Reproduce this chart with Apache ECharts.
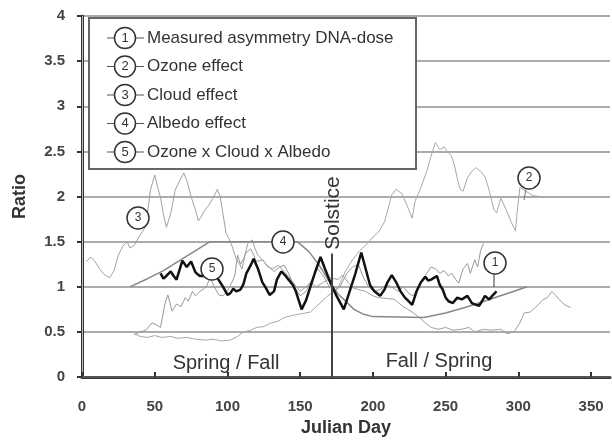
<!DOCTYPE html>
<html><head><meta charset="utf-8">
<script src="https://cdn.jsdelivr.net/npm/echarts/dist/echarts.min.js"></script>
<style>html,body{margin:0;padding:0;background:#fff}#c{width:612px;height:442px}</style>
</head><body><div id="c"></div>
<script>
// ---- data ----
const yTicks = [0, 0.5, 1, 1.5, 2, 2.5, 3, 3.5, 4];
const xTicks = [0, 50, 100, 150, 200, 250, 300, 350];
const seriesNames = ['Measured asymmetry DNA-dose', 'Ozone effect', 'Cloud effect', 'Albedo effect', 'Ozone x Cloud x Albedo'];
const solsticeDay = 172;

const measuredDays = [54,56,58,61,63,65,69,72,75,78,81,84,87,90,93,97,100,102,104,106,109,111,113,116,118,121,124,126,129,132,134,137,140,142,145,147,151,154,157,160,164,167,171,175,180,184,188,192,195,198,201,205,208,210,213,216,219,222,224,227,230,233,236,238,240,244,246,248,250,252,255,258,261,263,265,268,271,273,275,277,280,282,285];
const measuredVals = [1.15,1.09,1.12,1.17,1.12,1.08,1.29,1.22,1.28,1.16,1.12,1.12,1.18,1.11,1.10,1.00,0.91,0.93,0.98,0.95,0.97,1.03,1.15,1.24,1.31,1.20,1.05,1.00,0.91,0.95,1.08,1.17,1.12,1.08,1.02,0.95,0.75,0.85,1.00,1.15,1.33,1.20,1.04,0.90,0.75,0.95,1.15,1.38,1.20,1.02,0.95,0.90,0.97,1.05,1.13,1.05,0.95,0.88,0.85,0.80,0.95,1.05,1.11,1.07,1.08,1.12,1.02,0.97,0.88,0.84,0.82,0.88,0.86,0.88,0.90,0.82,0.80,0.79,0.84,0.90,0.86,0.90,0.95];

const ozoneDays = [36,40,45,50,55,61,66,72,78,85,90,96,102,107,111,116,120,125,130,135,139,144,150,157,163,169,176,181,186,191,195,200,204,208,211,213,216,220,224,227,229,233,237,240,243,246,249,251,254,256,258,260,262,265,268,271,274,277,279,281,283,285,288,292,295,298,299,301,305,310,315,320];
const ozoneVals = [0.48,0.45,0.44,0.46,0.44,0.45,0.43,0.44,0.42,0.41,0.42,0.40,0.41,0.45,0.50,0.52,0.55,0.56,0.60,0.62,0.66,0.68,0.70,0.72,0.81,0.90,0.99,1.17,1.30,1.40,1.46,1.55,1.61,1.72,1.90,2.02,2.08,2.03,1.88,1.76,1.95,2.10,2.28,2.45,2.60,2.52,2.55,2.50,2.45,2.35,2.20,2.08,2.06,2.21,2.28,2.32,2.28,2.22,2.12,2.00,1.86,1.82,1.98,1.84,1.72,1.62,1.80,2.10,2.06,2.01,2.00,1.99];

const cloudDays = [3,6,9,12,15,19,22,25,28,31,33,36,39,42,44,47,50,52,54,56,58,61,64,67,70,72,75,78,80,82,84,87,90,93,95,97,99,102,104,106,108,110,112,114,117,119,121,125,128,131,135,140,145,150,154,157,161,166,171,176,179,183,186,190,195,200,204,210,215,220,224,227,232,236,240,245,250,255,261,266,270,276,281,288,292,297,301,304,308,313,317,320,323,326,328,332,336];
const cloudVals = [1.28,1.33,1.28,1.20,1.14,1.10,1.18,1.35,1.45,1.50,1.43,1.46,1.55,1.62,1.68,2.07,2.24,2.10,1.99,1.80,1.66,1.81,2.07,2.17,2.26,2.18,2.00,1.85,1.73,1.78,1.84,1.90,1.98,2.08,2.00,1.80,1.60,1.50,1.41,1.31,1.26,1.20,1.35,1.48,1.52,1.42,1.35,1.28,1.22,1.20,1.24,1.15,1.05,0.95,1.00,1.05,1.00,1.05,1.10,1.08,1.13,1.05,0.99,0.97,0.95,0.90,0.88,0.87,0.86,0.79,0.75,0.72,0.66,0.60,0.55,0.53,0.55,0.52,0.53,0.55,0.50,0.53,0.52,0.53,0.48,0.50,0.60,0.71,0.72,0.79,0.86,0.88,0.95,0.90,0.86,0.80,0.77];

const albedoDays = [33,45,56,72,88,148,156,163,170,176,182,187,193,200,235,250,265,280,295,306];
const albedoVals = [1.00,1.09,1.18,1.34,1.50,1.50,1.39,1.24,1.06,0.92,0.83,0.75,0.70,0.67,0.66,0.71,0.78,0.86,0.94,1.00];

const productDays = [36,40,44,48,51,54,57,59,62,65,68,71,73,76,78,81,84,86,88,91,94,97,100,103,105,107,109,111,113,116,118,120,124,127,130,132,136,139,142,146,150,154,158,162,166,170,174,178,182,186,190,193,197,201,205,209,213,217,221,225,228,231,234,237,240,243,246,249,252,254,257,259,262,265,267,270,272,274,276];
const productVals = [0.47,0.50,0.52,0.60,0.58,0.55,0.81,0.91,0.73,0.81,0.78,0.88,0.84,0.95,0.90,0.95,0.98,1.02,1.10,1.00,0.91,0.90,0.95,1.05,1.12,1.35,1.25,1.31,1.38,1.42,1.35,1.28,1.30,1.24,1.20,1.17,1.22,1.24,1.15,1.00,0.90,0.95,1.08,1.20,1.12,1.00,0.95,1.02,1.15,1.22,1.25,1.12,1.00,0.95,0.97,1.02,1.00,0.95,1.00,0.92,0.90,1.00,1.08,1.15,1.22,1.20,1.15,1.18,1.12,1.15,1.08,1.04,1.20,1.26,1.15,1.30,1.22,1.40,1.48];

const zip = (a, b) => a.map((d, i) => [d, b[i]]);
const FONT = '"Liberation Sans", Arial, sans-serif';

// ---- layout constants ----
const legendX = 89, legendY = 18, legendW = 327, legendH = 151;
const legendRows = [38, 66.5, 95, 123.5, 152];
const legendCircleX = 125;
const annotations = [
  {n: '1', x: 495, y: 263}, {n: '2', x: 529, y: 178}, {n: '3', x: 138, y: 218},
  {n: '4', x: 283, y: 242}, {n: '5', x: 212, y: 269}
];

const graphic = [];
graphic.push({type: 'rect', z: 100, shape: {x: legendX, y: legendY, width: legendW, height: legendH},
  style: {fill: '#fff', stroke: '#666', lineWidth: 2}});
legendRows.forEach((y, i) => {
  graphic.push({type: 'line', z: 101, shape: {x1: legendCircleX - 18, y1: y, x2: legendCircleX + 19, y2: y},
    style: {stroke: '#555', lineWidth: 1.2}});
  graphic.push({type: 'circle', z: 102, shape: {cx: legendCircleX, cy: y, r: 10.5},
    style: {fill: '#fff', stroke: '#333', lineWidth: 1.5}});
  graphic.push({type: 'text', z: 103, style: {text: String(i + 1), x: legendCircleX, y: y, align: 'center',
    verticalAlign: 'middle', fontSize: 13, fontFamily: FONT, fill: '#333'}});
  graphic.push({type: 'text', z: 103, style: {text: seriesNames[i], x: 147, y: y, align: 'left',
    verticalAlign: 'middle', fontSize: 17, fontFamily: FONT, fill: '#333'}});
});
annotations.forEach(a => {
  graphic.push({type: 'circle', z: 90, shape: {cx: a.x, cy: a.y, r: 11},
    style: {fill: '#fff', stroke: '#333', lineWidth: 1.5}});
  graphic.push({type: 'text', z: 91, style: {text: a.n, x: a.x, y: a.y, align: 'center',
    verticalAlign: 'middle', fontSize: 12, fontFamily: FONT, fill: '#333'}});
});
graphic.push({type: 'line', z: 90, shape: {x1: 494, y1: 274, x2: 494, y2: 287}, style: {stroke: '#555', lineWidth: 1.2}});
graphic.push({type: 'line', z: 90, shape: {x1: 526, y1: 189, x2: 524, y2: 200}, style: {stroke: '#777', lineWidth: 1}});
graphic.push({type: 'text', z: 95, x: 333, y: 213, rotation: Math.PI / 2,
  style: {text: 'Solstice', align: 'center', verticalAlign: 'middle', fontSize: 21, fontFamily: FONT, fill: '#333'}});
graphic.push({type: 'text', z: 95, style: {text: 'Spring / Fall', x: 226, y: 363, align: 'center',
  verticalAlign: 'middle', fontSize: 20, fontFamily: FONT, fill: '#333'}});
graphic.push({type: 'text', z: 95, style: {text: 'Fall / Spring', x: 439, y: 361, align: 'center',
  verticalAlign: 'middle', fontSize: 20, fontFamily: FONT, fill: '#333'}});

const chart = echarts.init(document.getElementById('c'), null, {renderer: 'canvas'});
chart.setOption({
  animation: false,
  backgroundColor: '#fff',
  grid: {left: 82, right: 2, top: 16, bottom: 60, containLabel: false},
  xAxis: [{
    type: 'value', min: 0, max: 363, interval: 50,
    axisLine: {show: true, lineStyle: {color: '#333', width: 3}},
    axisTick: {show: true, inside: true, length: 5, lineStyle: {color: '#333', width: 2}},
    axisLabel: {fontSize: 15, fontWeight: 'bold', color: '#444', margin: 22, fontFamily: FONT,
      showMaxLabel: false, formatter: v => xTicks.includes(v) ? String(v) : ''},
    splitLine: {show: false},
    name: 'Julian Day', nameLocation: 'middle', nameGap: 41,
    nameTextStyle: {fontSize: 18, fontWeight: 'bold', color: '#333', fontFamily: FONT}
  }, {
    type: 'value', position: 'top', min: 0, max: 363,
    axisLine: {show: true, lineStyle: {color: '#555', width: 2}},
    axisTick: {show: false}, axisLabel: {show: false}, splitLine: {show: false}
  }],
  yAxis: [{
    type: 'value', min: 0, max: 4, interval: 0.5,
    axisLine: {show: true, lineStyle: {color: '#333', width: 3}},
    axisTick: {show: true, length: 5, lineStyle: {color: '#333', width: 2}},
    axisLabel: {fontSize: 15, fontWeight: 'bold', color: '#444', margin: 17, fontFamily: FONT,
      formatter: v => yTicks.includes(v) ? String(v) : ''},
    splitLine: {show: true, lineStyle: {color: '#909090', width: 1.5}},
    name: 'Ratio', nameLocation: 'middle', nameGap: 53, nameRotate: 90,
    nameTextStyle: {fontSize: 18, fontWeight: 'bold', color: '#333', fontFamily: FONT}
  }, {
    type: 'value', position: 'right', min: 0, max: 4,
    axisLine: {show: true, lineStyle: {color: '#bbb', width: 1}},
    axisTick: {show: false}, axisLabel: {show: false}, splitLine: {show: false}
  }],
  graphic: graphic,
  series: [
    {name: seriesNames[1], type: 'line', data: zip(ozoneDays, ozoneVals), showSymbol: false,
      lineStyle: {color: '#a8a8a8', width: 1}, z: 2},
    {name: seriesNames[2], type: 'line', data: zip(cloudDays, cloudVals), showSymbol: false,
      lineStyle: {color: '#a0a0a0', width: 1}, z: 2},
    {name: seriesNames[4], type: 'line', data: zip(productDays, productVals), showSymbol: false,
      lineStyle: {color: '#999', width: 1}, z: 3},
    {name: seriesNames[3], type: 'line', data: zip(albedoDays, albedoVals), showSymbol: false,
      lineStyle: {color: '#888', width: 1.5}, z: 3},
    {name: seriesNames[0], type: 'line', data: zip(measuredDays, measuredVals), showSymbol: false,
      lineStyle: {color: '#111', width: 2.5}, z: 4,
      markLine: {silent: true, symbol: 'none', label: {show: false},
        lineStyle: {color: '#444', width: 2, type: 'solid'},
        data: [[{coord: [solsticeDay, 0]}, {coord: [solsticeDay, 1.37]}]]}}
  ]
});
</script></body></html>
